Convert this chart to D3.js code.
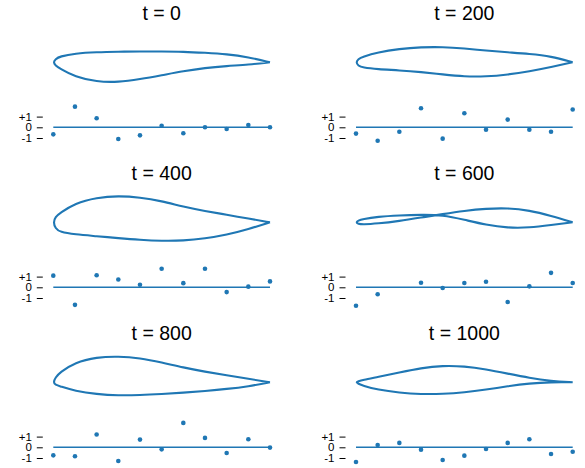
<!DOCTYPE html>
<html>
<head>
<meta charset="utf-8">
<script src="https://cdn.jsdelivr.net/npm/d3@7"></script>
<style>
  body { margin: 0; background: #fff; }
  svg { font-family: "Liberation Sans", Arial, sans-serif; }
  .tick text { font-size: 11.5px; fill: #000; }
  .tick line { stroke: #000; }
</style>
</head>
<body>
<svg width="585" height="468"></svg>
<script>
// time steps shown in the 6 panels
var times = [0, 200, 400, 600, 800, 1000];

// chordwise stations (fraction of chord) for the airfoil outlines
var stations = [0, 0.01, 0.03, 0.1, 0.2, 0.3, 0.4, 0.5, 0.6, 0.7, 0.8, 0.9, 1];

// surface heights, fraction of chord
var upper0 = [0, 0.015, 0.027, 0.041, 0.047, 0.049, 0.050, 0.050, 0.049, 0.044, 0.038, 0.024, 0];
var lower0 = [0, -0.015, -0.028, -0.067, -0.090, -0.092, -0.078, -0.060, -0.041, -0.026, -0.017, -0.011, 0];
var upper200 = [0, 0.015, 0.025, 0.046, 0.062, 0.070, 0.071, 0.064, 0.054, 0.046, 0.039, 0.028, 0];
var lower200 = [0, -0.016, -0.024, -0.032, -0.037, -0.045, -0.056, -0.066, -0.066, -0.057, -0.042, -0.022, 0];
var upper400 = [0, 0.025, 0.042, 0.088, 0.114, 0.122, 0.115, 0.098, 0.072, 0.052, 0.035, 0.017, 0];
var lower400 = [0, -0.028, -0.045, -0.056, -0.064, -0.073, -0.081, -0.086, -0.085, -0.075, -0.058, -0.032, 0];
var upper600 = [0, 0.008, 0.015, 0.026, 0.032, 0.035, 0.034, 0.012, -0.012, -0.026, -0.025, -0.013, 0];
var lower600 = [0, -0.007, -0.010, -0.006, 0.006, 0.022, 0.038, 0.053, 0.063, 0.066, 0.055, 0.030, 0];
var upper800 = [0, 0.022, 0.045, 0.092, 0.116, 0.120, 0.112, 0.092, 0.068, 0.049, 0.032, 0.016, 0];
var lower800 = [0, -0.012, -0.018, -0.040, -0.055, -0.061, -0.059, -0.054, -0.048, -0.040, -0.031, -0.019, 0];
var upper1000 = [0, 0.004, 0.010, 0.024, 0.045, 0.066, 0.077, 0.074, 0.060, 0.040, 0.020, 0.006, 0];
var lower1000 = [0, -0.006, -0.015, -0.034, -0.048, -0.055, -0.054, -0.047, -0.034, -0.018, -0.005, 0.001, 0];

// the 11 shape parameters under each airfoil (null = not drawn)
var params0 = [-0.66, 1.93, 0.84, -1.10, -0.75, 0.15, -0.56, 0.00, -0.16, 0.22, 0.00];
var params200 = [-0.59, -1.25, -0.41, 1.78, -1.06, 1.31, -0.22, 0.72, -0.22, -0.41, 1.66];
var params400 = [1.09, -1.64, 1.12, 0.73, 0.24, 1.73, 0.39, 1.73, -0.45, 0.06, 0.55];
var params600 = [-1.72, -0.65, null, 0.43, -0.06, 0.40, 0.52, -1.38, 0.09, 1.35, 0.40];
var params800 = [-0.75, -0.84, 1.19, -1.28, 0.72, -0.19, 2.28, 0.88, -0.53, 0.75, -0.03];
var params1000 = [-1.38, 0.22, 0.41, -0.22, -1.19, -0.78, -0.16, 0.41, 0.75, -0.63, -0.41];

var tickValues = [1, 0, -1];

var uppers = [upper0, upper200, upper400, upper600, upper800, upper1000];
var lowers = [lower0, lower200, lower400, lower600, lower800, lower1000];
var params = [params0, params200, params400, params600, params800, params1000];

var blue = '#1f77b4';
var svg = d3.select('svg');

// layout
var colX = [53.3, 356];
var chord = 216.7;
var rowTop = [0, 160, 320];

times.forEach(function(t, i) {
  var x0 = colX[i % 2];
  var top = rowTop[Math.floor(i / 2)];
  var chordY = top + 62.3;
  var zeroY = top + 127.3;

  var g = svg.append('g');

  g.append('text')
    .attr('x', x0 + chord / 2)
    .attr('y', top + 20)
    .attr('text-anchor', 'middle')
    .style('font-size', '19.5px')
    .style('fill', '#000')
    .text('t = ' + t);

  // airfoil, equal aspect
  var xScale = d3.scaleLinear().domain([0, 1]).range([x0, x0 + chord]);
  var yScale = d3.scaleLinear().domain([0, 1]).range([chordY, chordY - chord]);

  var outline = [];
  for (var k = stations.length - 1; k >= 0; k--) outline.push([stations[k], uppers[i][k]]);
  for (var k = 1; k < stations.length; k++) outline.push([stations[k], lowers[i][k]]);

  var line = d3.line()
    .x(function(d) { return xScale(d[0]); })
    .y(function(d) { return yScale(d[1]); })
    .curve(d3.curveBasis);

  g.append('path')
    .attr('d', line(outline))
    .attr('fill', 'none')
    .attr('stroke', blue)
    .attr('stroke-width', 2.1);

  // parameter strip
  var px = d3.scalePoint().domain(d3.range(params[i].length)).range([x0, x0 + chord]);
  var py = d3.scaleLinear().domain([-1, 1]).range([zeroY + 10.7, zeroY - 10.7]);

  var yAxis = d3.axisLeft(py)
    .tickValues(tickValues)
    .tickSize(6)
    .tickPadding(5)
    .tickFormat(function(d) { return (d > 0 ? '+' : '') + d; });

  g.append('g')
    .attr('transform', 'translate(' + (x0 - 10.5) + ',0)')
    .call(yAxis)
    .call(function(a) { a.select('.domain').remove(); })
    .selectAll('text')
    .style('font-family', '"Liberation Sans", Arial, sans-serif');

  g.append('line')
    .attr('x1', px(0))
    .attr('x2', px(params[i].length - 1))
    .attr('y1', py(0))
    .attr('y2', py(0))
    .attr('stroke', blue)
    .attr('stroke-width', 1.6);

  g.selectAll('circle')
    .data(params[i].map(function(v, j) { return {j: j, v: v}; })
      .filter(function(d) { return d.v !== null; }))
    .enter()
    .append('circle')
    .attr('cx', function(d) { return px(d.j); })
    .attr('cy', function(d) { return py(d.v); })
    .attr('r', 2.3)
    .attr('fill', blue);
});
</script>
</body>
</html>
